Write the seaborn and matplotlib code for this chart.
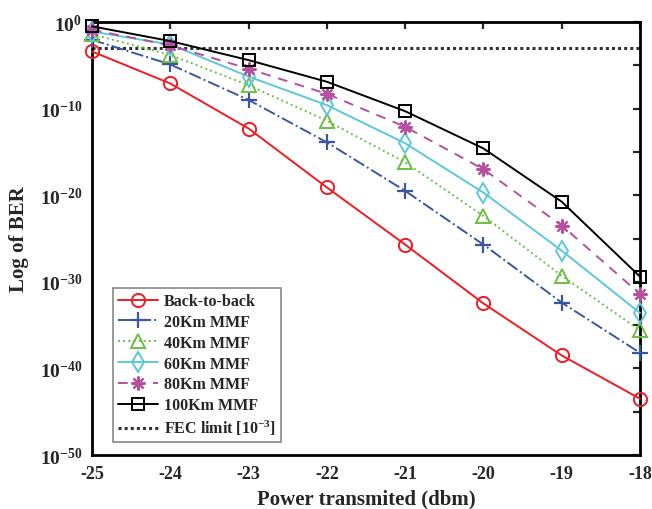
import numpy as np
import pandas as pd
import matplotlib
matplotlib.use("Agg")
import matplotlib.pyplot as plt
from matplotlib.ticker import FixedLocator, FixedFormatter
import seaborn as sns

# Received power sweep (dBm)
power = [-25, -24, -23, -22, -21, -20, -19, -18]

# log10(BER) for each link length
b2b_log = [-3.4, -7.1, -12.3, -19.1, -25.7, -32.5, -38.5, -43.5]
km20_log = [-2.05, -4.9, -9.0, -13.9, -19.5, -25.7, -32.4, -38.2]
km40_log = [-1.4, -3.8, -7.3, -11.4, -16.2, -22.4, -29.3, -35.6]
km60_log = [-1.1, -2.6, -6.3, -9.6, -14.0, -19.7, -26.4, -33.6]
km80_log = [-0.9, -2.7, -5.4, -8.3, -12.1, -17.0, -23.5, -31.4]
km100_log = [-0.5, -2.2, -4.4, -6.9, -10.3, -14.6, -20.75, -29.4]

series_names = ["Back-to-back", "20Km MMF", "40Km MMF", "60Km MMF",
                "80Km MMF", "100Km MMF"]
fec_limit = 1e-3

sns.set_theme(style="white")
plt.rcParams["font.family"] = ["Liberation Serif", "DejaVu Serif"]
plt.rcParams["font.weight"] = "bold"
plt.rcParams["mathtext.fontset"] = "custom"
plt.rcParams["mathtext.rm"] = "Liberation Serif:bold"
plt.rcParams["mathtext.bf"] = "Liberation Serif:bold"
plt.rcParams["mathtext.it"] = "Liberation Serif:bold"

rows = []
for name, vals in zip(series_names,
                      [b2b_log, km20_log, km40_log, km60_log, km80_log, km100_log]):
    for p, v in zip(power, vals):
        rows.append({"power": p, "ber": 10.0 ** v, "link": name})
df = pd.DataFrame(rows)

styles = {
    "Back-to-back": dict(color="#EE1C24", ls="-", marker="o", ms=9.5, mew=1.4),
    "20Km MMF": dict(color="#3A55A4", ls="-.", marker="+", ms=11, mew=1.6),
    "40Km MMF": dict(color="#6CBE45", ls=":", marker="^", ms=10, mew=1.4),
    "60Km MMF": dict(color="#5CC8DA", ls="-", marker="d", ms=10.5, mew=1.4),
    "80Km MMF": dict(color="#B5509E", ls=(0, (5, 4)), marker=(8, 2, 0), ms=10, mew=1.6),
    "100Km MMF": dict(color="#000000", ls="-", marker="s", ms=8, mew=1.4),
}

fig = plt.figure(figsize=(6.52, 5.10), dpi=100)
ax = fig.add_axes([92 / 652, 1 - 456 / 510, 548 / 652, 433 / 510])

for name in series_names:
    st = styles[name]
    sub = df[df["link"] == name]
    sns.lineplot(data=sub, x="power", y="ber", ax=ax, label=name,
                 color=st["color"], linestyle=st["ls"], linewidth=1.4,
                 marker=st["marker"], markersize=st["ms"],
                 markeredgewidth=st["mew"], markerfacecolor="none",
                 markeredgecolor=st["color"], estimator=None, sort=False,
                 clip_on=False, zorder=3)

ax.axhline(fec_limit, color="#333333", linestyle=(0, (1, 1)), linewidth=2.2,
           label=r"FEC limit [10$^{-3}$]")

ax.set_yscale("log")
ax.set_xlim(-25, -18)
ax.set_ylim(1e-50, 1e0)

# y ticks every 5 decades, labelled every 10
yt = [10.0 ** e for e in range(-50, 1, 5)]
ylabels = [(r"$10^{%d}$" % e if e % 10 == 0 else "") for e in range(-50, 1, 5)]
ax.yaxis.set_major_locator(FixedLocator(yt))
ax.yaxis.set_major_formatter(FixedFormatter(ylabels))
ax.yaxis.set_minor_locator(FixedLocator([]))
ax.set_xticks(power)
ax.set_xticklabels([str(p) for p in power])

ax.tick_params(axis="both", which="major", direction="in", length=5, width=1.6,
               top=True, right=True, pad=7)
ax.tick_params(axis="x", labelsize=13)
ax.tick_params(axis="y", labelsize=14)
for lab in ax.get_xticklabels() + ax.get_yticklabels():
    lab.set_fontweight("bold")

for sp in ax.spines.values():
    sp.set_visible(True)
    sp.set_color("black")
    sp.set_linewidth(2.0)

ax.set_xlabel("Power transmited (dbm)", fontsize=15, fontweight="bold", labelpad=5)
ax.set_ylabel("Log of BER", fontsize=15, fontweight="bold", labelpad=8)

leg = ax.legend(loc="lower left", bbox_to_anchor=(0.038, 0.03), borderaxespad=0,
                prop={"weight": "bold", "size": 11.5}, handlelength=2.5,
                labelspacing=0.3, frameon=True, fancybox=False,
                edgecolor="#888888", framealpha=1, borderpad=0.3,
                handletextpad=0.4)
leg.get_frame().set_linewidth(1.2)
leg.set_zorder(5)

fig.savefig("out.png", dpi=100)
